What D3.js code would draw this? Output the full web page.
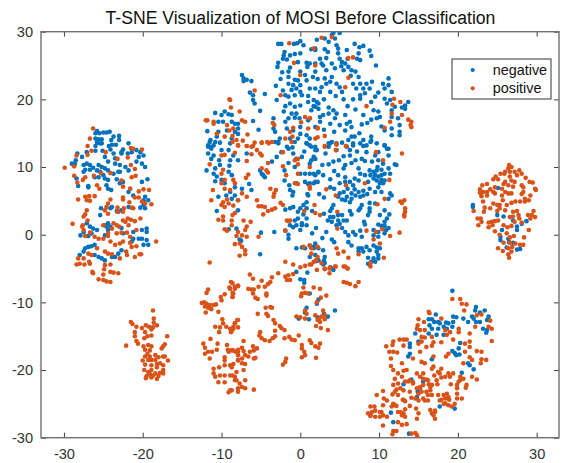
<!DOCTYPE html>
<html><head><meta charset="utf-8">
<script src="https://cdn.jsdelivr.net/npm/d3@7/dist/d3.min.js"></script>
<style>html,body{margin:0;padding:0;background:#fff}svg{display:block}text{font-family:"Liberation Sans",Arial,sans-serif}</style>
</head><body><div id="chart"></div>
<script>
const titleText = "T-SNE Visualization of MOSI Before Classification";
const seriesNames = ["negative", "positive"];
const xTicks = [-30,-20,-10,0,10,20,30];
const yTicks = [-30,-20,-10,0,10,20,30];

const negLeft = [[-26,15],[-25.8,15.3],[-25.5,15],[-25,15.1],[-24.6,15.1],[-24.2,15.2],[-26,14.2],[-25.6,14.1],[-25.2,14.1],[-25.8,13.6],[-25.4,13.5],[-26,13.1],[-25.2,13.5],[-24,14],[-23.7,14.5],[-23,14.6],[-23,14],[-23.4,13.3],[-23.9,13.3],[-24.3,13.1],[-24.1,12.6],[-25.1,12.4],[-26,12.4],[-27.1,12.2],[-28.3,12],[-27.7,11.5],[-28.5,11],[-29,10.5],[-28.6,10.5],[-27.5,10.3],[-27.1,10.5],[-26.7,10.3],[-27.3,9.6],[-27.5,9.3],[-26.7,9.6],[-26.3,9.9],[-25.6,10.3],[-25.2,10],[-24.8,9.8],[-25.8,9.5],[-25.4,9.3],[-25,8.8],[-24.4,9.5],[-25.6,8.5],[-24.8,8.3],[-24.4,8.1],[-23.3,8.2],[-22.9,7.6],[-22.5,7.8],[-28.4,8.3],[-28.2,7.2],[-26.9,7.2],[-26.9,7],[-24.6,7.3],[-24.4,6.8],[-24,6.6],[-21.6,6.8],[-21.8,6.3],[-21.2,5.8],[-20.1,7.8],[-19.4,8.2],[-19.7,5.6],[-19.9,4.4],[-19.7,3.9],[-20.3,4],[-22.9,10.3],[-23.5,10.5],[-23.7,9],[-22.9,9.3],[-22.2,10],[-21.8,9.5],[-22.7,12.2],[-22.5,12.6],[-21.8,13.5],[-21.4,12.2],[-22.7,12],[-21.9,12],[-20.8,12.5],[-20.3,12.2],[-19.9,11.7],[-20.5,11.5],[-20.8,10.8],[-20.1,10.5],[-19.7,10],[-23.1,9.3],[-23.7,12],[-23.5,11.3],[-24.4,10.8],[-24.8,11.5],[-26.1,8.5],[-25.3,3.9],[-25.4,2.9],[-24.1,3.9],[-23.9,4.1],[-23.3,3.5],[-22.7,3.6],[-24.8,1.4],[-27.1,1.7],[-26.7,1.2],[-26.3,.9],[-25.8,.7],[-27.5,.4],[-27.9,-.1],[-26.9,-.2],[-24.6,1.2],[-24.8,-.1],[-24.4,.7],[-26.5,.2],[-24.1,1.2],[-22.5,.2],[-19.5,.9],[-19.5,.4],[-21.2,.4],[-21.2,-.6],[-21.4,-1],[-20.1,-.6],[-19.5,-.8],[-19.9,-1.5],[-19.3,-1.5],[-27.3,-2],[-26.9,-1.8],[-26.5,-1.7],[-26.1,-1.5],[-27.5,-2.5],[-28,-3],[-26.1,-3],[-25.6,-3.3],[-25.2,-3.5],[-24.8,-3.8],[-23.1,-2.8],[-23.5,-3.3],[-23.9,-3.3],[-22.7,-2.3],[-20.5,-.6],[-20.1,.7],[-23.1,3.4],[-19.3,5.1],[-22.7,1],[-24.4,1.7],[-21.8,4.1],[-19.9,5.1]];
const posLeft = [[-26.3,15.7],[-26.7,14.2],[-27,13.1],[-26.5,12.4],[-27,11.8],[-28.4,11.7],[-20.1,12.6],[-21.2,12.7],[-21.5,12.8],[-24.7,12.2],[-29.9,9.9],[-28.7,10.1],[-23.2,11.2],[-21.9,11.4],[-21.5,10.3],[-21,9.7],[-21.4,8.5],[-20.9,8.7],[-24.1,9.1],[-25.3,9.1],[-26.2,8.7],[-27.3,8.5],[-27.6,8.1],[-28.7,8.7],[-28.3,7.7],[-22.7,8],[-25.8,7.3],[-25.5,6.8],[-22.5,7.1],[-20.5,6.4],[-19.9,6.7],[-19.2,6.6],[-21.6,6.8],[-28.2,5.2],[-27.3,5.6],[-26.8,5.7],[-26.1,5.7],[-26.7,5],[-27.1,5.1],[-24.1,5.2],[-24.4,4.6],[-24.6,4.1],[-24.8,3.6],[-24.4,3.1],[-22.5,5.5],[-22.5,5.2],[-21.7,4.8],[-21,5.5],[-20.5,5.5],[-20.1,4.9],[-18.9,4.5],[-19.7,4.6],[-21.4,4],[-21.2,3.9],[-22.4,3.9],[-22.5,3.4],[-23.2,4],[-23.2,3.4],[-27.1,3.6],[-27.5,2.7],[-27.3,3],[-27,2.1],[-28.9,1.6],[-27.7,1.2],[-27.5,.7],[-27.6,1.4],[-23.7,1.7],[-23.3,1.4],[-23,1.2],[-25,1.4],[-23.9,.9],[-24.4,.2],[-21.8,1.4],[-22.2,1.9],[-21.9,2.4],[-22.5,2.1],[-21.5,2.2],[-20.3,2.4],[-21,2],[-26.7,.3],[-27.3,-.2],[-26.1,-.3],[-25.6,-.6],[-25,-.6],[-24.4,-.2],[-23.3,.2],[-22.7,.3],[-22,.3],[-20.8,.7],[-21.6,-.3],[-24.1,-1],[-23.5,-1.5],[-22.9,-1.3],[-22.5,-1],[-21.6,-1.2],[-21.4,-1.8],[-20.8,-1.7],[-18.3,-1],[-25.8,-2],[-26.9,-2.8],[-26.5,-3],[-28.2,-3.5],[-27.5,-3.5],[-26.8,-4],[-28.4,-4.4],[-28,-4.3],[-27.4,-4.4],[-26.7,-4.3],[-24.8,-2.5],[-24.4,-2.8],[-23.9,-2.9],[-22.9,-3.5],[-22.1,-2.5],[-22,-3],[-21,-3.3],[-20.4,-2.9],[-20.2,-2.9],[-26.4,-5.5],[-26.3,-5.7],[-24.8,-4.5],[-24.1,-4.4],[-24.9,-5.1],[-24.1,-5.5],[-23.7,-5.6],[-23.1,-5.7],[-25,-5.9],[-25.6,-6.6],[-25,-6.7],[-24.6,-6.9],[-24.1,-7]];

const negCenterTop = [[-2.8,28.2],[-2.4,28.2],[-.8,28.2],[-.4,28.3],[0,28.6],[.4,28],[-2,27],[-2.1,26.5],[-1.3,26.5],[-.7,26.7],[0,26.8],[1.4,27.4],[1.9,27.5],[-2.2,26],[-1.7,25.9],[.8,25.4],[1.9,25.3],[-2.8,25.4],[-2.9,24.8],[-1.3,24.7],[-1.5,24.1],[-1.5,23.3],[0,24.1],[-7.4,23.6],[-7.2,23.1],[-6.8,22.9],[-6.2,22.7],[-7.2,22.7],[-1.5,22.3],[-.7,22.9],[-.3,22.8],[.6,23.6],[.8,22.8],[-.9,22.1],[0,22.1],[-.5,21.6],[-1.1,21.4],[0,21.1],[-2.2,21.3],[-1.9,20.6],[-1.5,20.4],[-.7,20.6],[.2,20.6],[-6.4,21],[-6,20.6],[-4.5,20.8],[-6,19.9],[-5.8,19.4],[-1.9,19],[-1.3,19.4],[-.7,18.9],[0,19.1],[1,19.6],[1.7,19],[2.1,19.6],[-2.1,18.2],[-1.1,17.9],[-.5,17.9],[-5.1,18.3],[-10.8,18],[-9.6,18.2],[-10,17.7],[-9.1,17.8],[-8.7,17.7],[-9.8,16.7],[-10.4,16.7],[-8.7,16.7],[-8.3,16.4],[-7.9,16.4],[-6,16.8],[-3.4,17.2],[-1.5,17.2],[-.7,17.3],[-1.9,16.7],[0,15.9],[1.9,15.9],[-1.7,15.7],[-.9,15.4],[-3.4,15.7],[-3.2,15.2],[-11.8,15.3],[-10.4,15.2],[-9.3,15.4],[-7.9,15.7],[-8.3,15.2],[-5.3,15.5],[-10.6,14.5],[-7.9,14.9],[0,14.9],[-1.3,14.2],[-.3,14.2],[.8,14.7],[1.2,14.2],[-11.4,14],[-10.8,13.7],[-11.7,13.2],[-11.3,13],[-2.6,14.2],[-3.2,13.7],[-2.8,13.5],[-8.9,13.5],[-8.7,14.2],[-.7,13.7],[.8,13.5],[1.9,13],[-1.7,13]];
const posCenterTop = [[-1.4,28.3],[-.8,25.4],[0,23.6],[-5.8,21.3],[-2.5,20.6],[-9,20],[-8.9,19.9],[-8.8,18.8],[-7.7,18.2],[-12,16.9],[-11.8,16.9],[-11,16.7],[-11,16.4],[-9.3,16.2],[-7,16.7],[-7.4,16.9],[-3.5,16.5],[-3.3,16.2],[.1,16.6],[-.9,15.8],[.6,17.4],[1.2,17.2],[-8.5,15.7],[-9,15.4],[-9.6,14.5],[-10.6,14.9],[-6.7,14.8],[-8.6,14.6],[-1.3,15.2],[-1.9,14.2],[-1,14.5],[1,15.7],[2.2,15.8],[-8.1,14],[-7.9,13.2],[-7.3,13.9],[-6.8,13.1],[-6.2,13],[-5.8,13.6],[-4.9,13.6],[-4.2,13.7],[-3.6,13.7]];

const negTopRight = [[4.2,29.8],[5,29.8],[2.1,28.8],[3.1,29],[3.6,28.5],[4.4,29],[4,29.5],[6.9,28.2],[8,27.9],[7.5,27.7],[4.6,28],[4.8,27.5],[1.9,27.3],[3.1,27.4],[5.9,27.3],[8.8,27.2],[9,26.4],[7.4,26.8],[4.8,26.8],[5,26],[7.2,26],[7.6,25.8],[9.6,25],[2.5,26],[3.3,26.1],[1.2,25.3],[2.7,25.3],[4,25.3],[5.3,25.5],[5.7,25.3],[6.1,24.8],[6.5,24.3],[7,24.1],[5.5,24.3],[4.4,24.6],[3.3,24.3],[1.9,24.1],[7.4,23.3],[4,23.3],[3.1,23.1],[1.6,23.3],[11.2,23.1],[3.8,22.6],[4.6,22.3],[3.3,22.3],[2.7,21.8],[5,21.8],[6.7,22.3],[7.6,22.3],[8.4,22.3],[9.1,22.6],[10.5,22.3],[11.2,22.1],[7.1,21.6],[8,21.6],[8.8,21.6],[10.7,21.6],[1.9,21.6],[1.2,21.6],[3.8,21.1],[5.3,21.1],[2.5,21.1],[11.6,21.1],[9.9,21],[8.2,20.9],[7.6,20.6],[9.5,20.4],[6.7,20],[5.5,20],[7.6,20.1],[10.7,20.1],[11.4,19.9],[9,19.6],[11,19.4],[1.7,19.9],[2.3,19.4],[13.7,19.6],[13.3,19.1],[12.9,18.8],[12,18.9],[11.6,18.4],[1.9,18.9],[2.3,18.6],[3.6,18.8],[4.2,18.4],[9.3,18.4],[9.9,18.2],[8,17.7],[10.1,17.4],[9.7,17.2],[12.4,17.2],[13.3,18.6],[3.6,17.9],[2.9,17.7],[4.6,17.9],[2.5,17.4],[5.7,17.7],[4.4,17.2],[11.6,17.4],[1.4,18.4],[3.8,16.4],[6.3,16.7],[5.9,16.4],[5,16.2],[7.8,16.3],[6.5,15.9],[10.3,16],[12.6,16.2],[5.7,15.4],[10.7,15.4],[11.6,15.7],[12.6,15.2],[12.6,14.7],[11.6,14.7],[6.9,14.5],[6.5,14.5],[6.1,14],[9,14.5],[8,14],[9,13.9],[3.8,13.5],[3.6,13],[4.6,13.5],[5.3,13.6],[5.9,13],[6.7,13.5],[7.6,13.5],[8.4,13.2],[10.7,13.2],[11.2,12.7]];
const posTopRight = [[2.7,29.1],[4,29.2],[1.7,27.5],[6.1,26.1],[6.7,26.2],[1.9,25],[6.1,23.2],[5.7,21.8],[11.9,20.1],[12.7,19.6],[8.4,19],[11.7,19.2],[11.6,17.9],[12.9,17.7],[11.4,16.7],[13.7,17],[14.1,16.7],[14,16.2],[14.1,15.9],[10.7,15.8],[2.2,15.7],[2.2,14.4],[3.1,14.6],[1.9,14.2],[4.6,13.4],[3.1,13],[5.8,13.1],[1.2,17.2]];

const negMiddleLeft = [[-11.5,13.7],[-11,13.2],[-10.2,13.6],[-11.7,13],[-11.3,12.7],[-11,11.7],[-11.3,11.2],[-11.7,12],[-10.2,10.3],[-11.9,9.5],[-10.8,9.8],[-11,9],[-10.6,8.6],[-10.8,7.9],[-10,8.1],[-9.1,9.3],[-8.7,8.8],[-9.6,7.6],[-7.9,11],[-8.5,11.7],[-8.9,11],[-9.1,12.5],[-7.4,6.8],[-8.3,7],[-8.9,6.3],[-9.4,5.8],[-10.4,5.6],[-8.3,5.8],[-8.7,5.3],[-7.9,5.1],[-6.2,6.6],[-10.6,3.5],[-7.9,3.6],[-5.1,9.5],[-4.7,8.8],[-4.9,9],[-4.5,8.5],[-3.6,10.8],[-9.1,.8],[-8.1,.9],[-5,.3],[-3.3,.4],[-7.7,-.7],[-7.5,-.9],[-5.1,-2.9],[-2.8,13.7],[-2.4,12.2],[-1.5,12.7],[-.9,12],[.2,11.5],[-.5,11.2],[-.7,10],[.6,9],[0,9],[1.2,9],[2.3,9.3],[1.9,8.8],[1.9,11.2],[1.2,10.5],[2.1,12.5],[.8,13.5],[1.2,13.2],[-1.4,7.3],[-1.3,6.6],[-.9,6.3],[-1,5.8],[-.5,7.6],[.6,7.8],[1,7.5],[1.7,7.6],[2.2,7.8],[.8,4.8],[.4,4.4],[0,3.9],[-1.9,3.7],[-1.3,3.9],[-.9,4.1],[-.3,3.4],[.8,3.9],[.4,3],[-.3,2.4],[-.7,2.1],[.8,2.4],[.2,1.7],[-.5,1.4],[-.9,1.1],[-1.3,1.4],[-1.9,.6],[-1.5,0],[-1.5,-.6],[0,.7],[.2,1.4],[.8,1.4],[-.5,-2],[.2,-1.9],[.6,-2],[1.7,-1.8],[2.3,-2],[1.9,-1.3],[1.2,-1.6],[1.9,-3],[2.3,-3.8]];
const posMiddleLeft = [[-8.6,13.7],[-7.9,13.2],[-6.8,13.1],[-6,13.1],[-4.9,13.6],[-4,13.5],[-5.5,12.5],[-5.1,12],[-4.9,11.7],[-9.6,11.8],[-10,11.7],[-8.3,12.1],[-6.2,11.9],[-6.8,10.9],[-4.1,10.6],[-11.5,10.4],[-9.8,9.6],[-10,9],[-4.9,9.8],[-4.3,9.5],[-4.1,9.2],[-2.2,10.1],[-1.8,8.8],[-6.6,8.9],[-6.9,8.4],[-8.5,8.1],[-8.3,7.6],[-9.6,8.1],[-10,7.6],[-11.1,6.6],[-9.6,6.8],[-8.9,6.6],[-7.4,6.1],[-6.8,5.6],[-3.8,6.8],[-3.1,6.6],[-3.3,6.1],[-3.4,5.6],[-11.3,5.1],[-7.9,5.1],[-9.3,5.2],[-9.8,4.8],[-9.1,4.6],[-10,4.4],[-9.6,4.1],[-8.5,4.3],[-5.5,5.1],[-5.3,4.2],[-4.9,4.2],[-4.5,4.1],[-2.5,4.7],[-2.2,4.4],[-3.2,3.9],[-3.6,3.7],[-4.1,3.5],[-4.7,3],[-8.3,3.2],[-8.6,2.9],[-10.4,2.2],[-9.8,2.7],[-9.8,2.1],[-8.7,2.1],[-8.7,1.4],[-7.2,2.1],[-6.3,1.9],[-9.6,.8],[-9.3,.6],[-6.8,1.2],[-7,.7],[-7.9,.4],[-7.4,-.1],[-8.1,-.2],[-6.8,-.3],[-5.3,-.3],[-8.3,-1.4],[-7.7,-1.3],[-7.4,-1.8],[-7,-2.3],[-7.7,-3.1],[-7,-2.9],[-11.5,-4.1],[-1.7,2.1],[-1.5,2],[-1.9,.6],[-.3,11.2],[-.3,10.4],[-.7,11],[1.2,10],[-.3,9],[1.2,7.1],[-.7,7.6],[-.3,7.5],[-1.1,13.7],[-2.2,12.2],[.5,3.5],[-1.3,2.1],[.4,-1.8],[1.4,-2]];

const negMiddleRight = [[1.4,13],[1.9,12.5],[3.6,13.5],[4,13.7],[4.6,12.5],[5.5,11.6],[6.3,12.5],[6.7,13.2],[8,13.1],[8.9,13.7],[9.7,13.5],[10.7,13.2],[11,12.7],[11.2,11.7],[9.9,12.2],[9.5,11.7],[8.4,12.2],[7.8,11.2],[8.2,10.9],[9.1,10.8],[9.9,11],[6.3,11.7],[5.7,10.3],[6.5,10.6],[5.5,9.8],[4.2,10.8],[3.6,10.4],[1.7,11.5],[1.4,11],[2.3,9.2],[2.9,8.8],[1.7,9],[3.8,8.2],[4.3,9.4],[4.8,8.8],[5.7,8.5],[12,10.4],[12.2,10.3],[7.4,9.8],[7.6,9],[8.2,8.8],[9.3,9.3],[9.7,9.5],[10.3,9.6],[10.7,9],[9.5,8.8],[9.9,8.6],[10.3,8.8],[9.3,8.3],[9.7,8],[10.3,8.1],[10.7,8],[10.1,7.6],[10.5,7.6],[9.9,7],[6.9,8.3],[7.4,8],[6.3,7.8],[5.7,7.8],[8.6,7.8],[5,7.6],[1.9,7.8],[1.2,7.6],[3.8,7],[4.3,6.8],[6.7,7.3],[6.9,6.7],[6,6.8],[5.5,6.3],[5,6.1],[8.8,6.8],[8,6.5],[7.4,6.3],[6.5,6.1],[7,5.8],[5.9,5.6],[4.8,5.6],[5.3,5.2],[5.7,5.1],[8,5.8],[9.5,6.3],[10.3,6.3],[11.4,6.1],[11.6,5.8],[11.2,5.3],[7.6,5.6],[8.8,4.7],[9.5,4.6],[7.8,4.4],[4.2,4.4],[4,3.9],[3.8,3.5],[7.6,3.9],[7.4,3.6],[8.8,3.9],[8.8,3.4],[8.6,2.9],[6.3,3.5],[6.5,3],[3,3.1],[10.1,2.9],[10.7,3.6],[11.3,3],[11,2.4],[10.7,1.9],[3.8,2.6],[3.5,2.1],[4,1.9],[4.2,2.6],[4.8,2.9],[5.3,2.9],[4.8,2.1],[5.5,2.1],[5.9,2.1],[5,1.6],[4.6,1.4],[5.3,1],[8.1,1.9],[8.2,1.5],[9.9,1.5],[10.3,1.3],[10.7,1.3],[11.2,1],[10.9,.7],[3.3,.4],[5.7,.4],[6.7,.4],[7,0],[6.1,-.1],[7.6,.6],[9.3,.7],[9.9,.4],[10.7,.2],[9.3,-.1],[9.9,-.3],[7.8,-.3],[4,-.7],[4.3,-1.1],[6.1,-1.1],[6.5,-1.6],[9.3,-1.6],[9.7,-1.9],[7.4,-2],[7.8,-2],[8.4,-1.8],[7.4,-2.5],[8,-2.5],[8.8,-2.3],[9.7,-2.5],[10.1,-2],[2.9,-2.3],[1.7,-2],[3.1,-3.3],[3,-3.8],[9.9,-3],[8.6,-3.4],[9.3,-3.5],[9.9,-3.5],[9,-4],[9.5,-4],[8.6,-4.3],[1.2,-3.3],[3.8,-4.8],[2.1,-3.8]];
const posMiddleRight = [[3.1,13.1],[4.6,13.3],[5.8,13.1],[4.5,12.5],[9.6,12.2],[12.9,12],[10.5,11],[11.3,8.1],[8.2,7.6],[5.8,7.3],[3.3,6.7],[4.5,5.8],[1.2,6.8],[1.8,4.4],[10.7,5.3],[9.8,4.5],[12.7,4.9],[13.2,5.1],[12.9,4.7],[13.3,3.9],[13.3,3.4],[13.2,3],[13.2,2.7],[1.9,3.2],[2.5,2.9],[4.7,3.4],[4.7,.9],[8.4,.6],[9.6,.4],[10.4,.8],[11.4,-.2],[12.6,.3],[9.3,-.7],[10.1,-1.3],[1.2,-1.6],[2.2,-1.8],[4.6,-2],[4.8,-2.8],[5.5,-2.5],[6.1,-3.4],[7.4,-2.9],[10.6,-3.4],[1.4,-2.8],[2.2,-3.3],[2,-3.8],[2.7,-4.2],[1.4,-4.4],[3.1,-5],[3.8,-4.9],[4.4,-4.7],[5.5,-4.7],[6,-5],[8.9,-4.7],[8.9,-4.2]];
const negCoreExtras = [[2.9,25],[3.5,27],[5.2,24.9],[6,26],[6.4,23.5],[2.2,23],[1,20.5],[3,20],[4.5,20.5],[6,19],[7,18.5],[8.5,16.5],[9,17],[7.5,15],[4.3,15.2],[3,15.5],[2.5,16.7],[3.2,12],[4.9,11],[7,11],[7.2,12.3],[8.8,9.5],[8.9,8.8],[9.8,10],[10.5,10.5],[11.2,9.8],[11.4,9],[8.5,6],[6.3,4.8],[6.5,5.3],[3,5.5],[2.4,6],[2.8,10.3],[1,5.8],[-2,9.5],[-3,11.5],[-1.5,10.6],[-2,8],[.9,6],[1.5,3.5],[2,1],[2.8,-.5],[1.5,.2],[-2.3,24],[-3.1,22],[-2.5,23],[-3,19.9],[-.3,25.5],[.9,24.8],[-.1,17.2],[1,16.9],[-1,12.9],[.5,12.3],[-10.3,11],[-10,12.5],[-9,10.2],[-6.8,12],[-6.5,7.5]];

const posRightCluster = [[26.5,10.3],[26.8,10],[26.4,9.8],[26,9.3],[26.6,9.3],[27.2,9.3],[27.8,9.5],[28.1,9],[25.9,9],[25.4,9],[24.8,8.6],[24.5,8.2],[26.6,8.6],[27.5,8.8],[25.1,8.2],[28.6,8.4],[29.1,7.8],[29.5,7.7],[26,7.8],[26.8,8],[27.2,7.8],[25.8,7.5],[26.4,7.3],[23.7,7.5],[23.1,7.3],[24.7,7],[25.6,6.8],[27,7.1],[28.1,7.3],[28.3,7],[29.8,6.8],[29.9,6.6],[22.8,6.7],[22.8,6.2],[23.2,6.3],[23.7,6.3],[24.1,6.7],[24.5,6.3],[26,6.3],[26.4,6.1],[26.8,6.1],[28.3,6.3],[28.1,6],[29.2,5.8],[23,5.7],[23.7,5.8],[24.7,6.1],[25.6,5.8],[28.5,5.3],[29,5.1],[23.2,4.9],[24.5,4.6],[25.3,4.4],[25.7,5.1],[26.2,4.4],[26.8,4.7],[27.3,4.9],[27.9,4.9],[28.5,4.9],[25,4.4],[23.4,4],[24.1,3.9],[25.3,3.9],[22,3.5],[23.3,3.4],[25,3.5],[26,3.6],[27,3.4],[27.5,3.5],[29.6,3.5],[27.7,2.9],[27,2.7],[26.6,2.6],[28.9,2.9],[29.4,2.9],[29.8,2.6],[22.5,2.4],[22.9,2.4],[24.7,2],[25.1,2.1],[24.3,1.9],[23.9,1.8],[29.2,2.4],[23,1.9],[27.8,2.4],[27.2,1.9],[28.1,1.8],[22.6,1.4],[24.4,1.4],[25.8,1.4],[26.3,1.1],[26.8,1.3],[29,.7],[23.9,1.1],[24.7,.5],[25.3,0],[26.2,.2],[27.1,-.2],[26.6,-.4],[28.4,-.4],[25.8,-1.2],[26.6,-1.2],[27.3,-1.3],[27.9,-1.5],[26.4,-2],[26.9,-1.8],[28.3,-1.5],[25.7,-2.4],[26.8,-2.5],[26.4,-2.9],[26.5,-3.4],[25.1,-2]];
const negRightCluster = [[21.9,4.4],[21.9,4.1],[25.1,6.9],[25,2.9],[25.8,2.7],[27,2.1],[28.7,2],[28.1,1.6],[27.5,1.2],[27.5,.7],[25.6,.7],[25.4,-.3],[25.4,-.8],[26.4,-.6],[27,-1.2],[26.2,-1.9],[27.5,-2.2],[27.9,-2.1],[26.5,-1.1]];

const posSmallCluster = [[-18.7,-11.2],[-21.5,-12.9],[-21.3,-13.2],[-20.8,-13.6],[-18.6,-12.4],[-18.6,-13],[-19.6,-13.4],[-18.2,-13.4],[-20.1,-13.8],[-19.2,-13.6],[-18.7,-13.7],[-18.9,-14],[-19.7,-14.4],[-21,-14.4],[-21,-15],[-16.9,-15],[-18.9,-14.9],[-19.4,-15],[-19.8,-15.3],[-20.8,-15.7],[-20.6,-16.1],[-22.1,-16.4],[-19.9,-16.5],[-17.2,-16.2],[-17.4,-16.5],[-17.6,-16.8],[-19.3,-16.3],[-18.9,-16.5],[-19.7,-17],[-19.1,-17.1],[-19.4,-17.6],[-19.7,-18],[-19.1,-18],[-18.4,-17.8],[-18,-18.1],[-17.4,-18],[-17.2,-18],[-18.9,-18.5],[-19.3,-18.5],[-20,-18.6],[-18.4,-18.5],[-16.8,-18.6],[-19.7,-19.2],[-18.2,-19.1],[-18.9,-19.3],[-17.4,-19.3],[-17.8,-19],[-19.8,-20],[-18.9,-20],[-18.2,-19.6],[-17.4,-20],[-19.3,-20.3],[-18.4,-20.5],[-17.8,-20.4],[-17.4,-20.5],[-19.5,-20.9],[-19.6,-21.2],[-18.9,-21.1],[-18.2,-21.3],[-18.7,-20.8],[-18,-20.9],[-19.1,-20.6]];

const posLowerLeft = [[-11.7,-8.1],[-11.9,-8.6],[-8.8,-7],[-9,-7.8],[-8.3,-7.7],[-7.9,-7.5],[-8.5,-8.7],[-8.6,-9.2],[-9.6,-8.8],[-10.1,-9.2],[-10,-9.7],[-12.5,-10.1],[-12.2,-10],[-11.9,-10.2],[-11.5,-10.4],[-11,-10.4],[-10.7,-10.3],[-12.1,-10.6],[-11.7,-10.8],[-11.3,-11],[-12,-11.5],[-10.4,-11.4],[-9.9,-12.5],[-8,-12.6],[-8.3,-13.1],[-7.9,-13.7],[-9.8,-13.1],[-9.4,-13.6],[-10.8,-13.6],[-10.2,-13.7],[-10.3,-14.4],[-8.9,-13.9],[-8.5,-13.9],[-8.8,-14.4],[-12.3,-16.1],[-11.4,-15.4],[-10.5,-16.1],[-12.1,-16.7],[-10.6,-17],[-12.1,-17.6],[-11.7,-17.3],[-11.2,-17.3],[-11.5,-18.3],[-9.3,-16.3],[-9.2,-17],[-8.7,-17.1],[-8.2,-17.3],[-7.9,-17],[-9.1,-17.3],[-9.6,-18.1],[-7.9,-17.8],[-9.6,-18.6],[-8.9,-19.3],[-7.9,-18.5],[-9.6,-19.3],[-11,-19.8],[-10.3,-19.6],[-11,-20.5],[-10.8,-21],[-10.2,-20.8],[-9.6,-20.8],[-8.9,-20.8],[-8.3,-21],[-10.4,-21.8],[-9.6,-21.8],[-8.1,-21.5],[-8.9,-23],[-9.1,-23.3],[-8.7,-23],[-7.9,-23.2]];

const posLowerMiddle = [[-1.9,-4],[-.9,-4.4],[0,-4.8],[.6,-4.6],[1.2,-4.4],[1.7,-4],[2.1,-5.2],[3.1,-5.1],[3.7,-5],[3.7,-5.7],[4.5,-4.7],[5.7,-4.7],[6,-5],[-6.4,-5.9],[-6,-6.5],[-3.6,-6.3],[-4.9,-6.8],[-3.8,-7],[-4.1,-7.3],[-4.5,-7.7],[-2.8,-5.7],[-1.9,-6.2],[-1.5,-6],[-.9,-5.8],[-1.3,-6.7],[-1.7,-6.7],[-5.3,-7.7],[-6.6,-8],[-6.2,-8.1],[-5.9,-8.1],[-6,-8.7],[-4.3,-8.7],[-4.3,-9],[-5.7,-9.3],[-5.4,-9.5],[-8.6,-7.2],[-7.9,-7.6],[-8.3,-8],[-8.9,-8],[-8.6,-8.6],[-8.6,-9.2],[.4,-7.8],[1.7,-7.8],[2.5,-8],[.2,-8.7],[.6,-8.6],[.1,-9.1],[1,-8.7],[2.6,-9.3],[3.3,-9],[2.1,-10],[5.5,-7],[5.9,-7.1],[6.3,-7.3],[7.4,-7],[7,-7.6],[-4.4,-10.8],[-3.8,-10.7],[-3.6,-10.8],[-5.4,-11.7],[-4.3,-11.7],[-4.1,-12],[-3.4,-12.6],[-3.2,-13.1],[-2.6,-13.5],[-2.4,-13.8],[-2,-14.1],[-3.2,-14.2],[-.5,-12.1],[-.2,-14.9],[0,-12.2],[.6,-12.4],[.6,-11.2],[.8,-11.7],[1.9,-11.9],[2.4,-12.4],[2.7,-12.1],[3.1,-11.9],[2.5,-12.9],[2.2,-12.6],[3.1,-12.5],[2,-13.5],[2.6,-13.8],[3.5,-14.1],[2.9,-11.2],[-5.1,-14.4],[-5.2,-14.9],[-4.9,-15.3],[-4.5,-15.6],[-3.9,-15.7],[-3.5,-15.3],[-3.2,-15],[-2,-15.3],[-1.4,-15.1],[-1.1,-15.5],[-.7,-15.6],[1.2,-15.6],[1.4,-16],[1.9,-16.5],[2.3,-16.7],[2.5,-16.1],[.2,-16.3],[.2,-16.8],[.5,-17.3],[.2,-18.1],[.6,-17.8],[2,-18.2],[-1.8,-18.3],[-1.9,-18.8],[-2.2,-19.2],[-7.2,-15.7],[-7.9,-12.6],[-8.3,-13.1],[-8.5,-13.6],[-8.7,-14.2],[-6,-16.5],[-5.5,-16.8],[-5.9,-17.1],[-6.4,-17.3],[-7.4,-16.7],[-7.2,-17.2],[-7.9,-17.3],[-8.5,-17.1],[-7,-17.8],[-6.6,-18],[-5.9,-18.3],[-5.7,-18.2],[-7.4,-18.3],[-7.9,-18.6],[-7,-19.1],[-7.4,-19],[-8.5,-19.1],[-8.7,-19.6],[-7.2,-20],[-8.1,-20.3],[-8.6,-20.8],[-7,-21.5],[-8.3,-21.5],[-7.7,-22],[-7.4,-22.5],[-7,-22.7],[-7.9,-22.7],[-5.9,-22.9]];
const negLowerMiddle = [[-.5,-5.5],[.9,-5.6],[0,-6.6],[.5,-7.1],[1.2,-8.7],[3.1,-4.2],[2.9,-4.4],[4,-5],[4.2,-5.2],[2.3,-9.6],[2.1,-10.2],[.8,-10.8],[.6,-11.5],[-.2,-12.4],[1.1,-12.5],[2.2,-12.2],[3,-11.7],[3.5,-12.1],[4.4,-11.2],[.5,-6.7],[2,-3.9]];

const negLowerRight = [[19.3,-8.3],[16.3,-12.5],[16.7,-12.5],[17.2,-11.8],[17,-12.9],[17.5,-12.9],[16.4,-13.4],[17.7,-13.1],[18.5,-13],[18.8,-13.1],[18.2,-13.6],[17.5,-13.9],[18.6,-13.9],[16.7,-13.9],[16.3,-14.6],[17.3,-14.8],[18.2,-14.8],[19.4,-12.1],[19.8,-12.2],[20.7,-12.4],[19.4,-12.9],[19.3,-13.6],[21.8,-12.1],[22,-12.4],[21.3,-12.9],[22.3,-10.7],[22.2,-11.2],[22.8,-11.5],[23.4,-11.2],[23.9,-12.1],[23.7,-12.6],[22.3,-12.9],[22.8,-12.9],[23.2,-13.9],[23.7,-14.1],[23.6,-14.5],[13.9,-16.1],[13.9,-16.6],[13.9,-17.6],[13.7,-18],[15,-15.8],[16.7,-18.4],[19.3,-17.2],[19.6,-17.5],[20.1,-16.8],[20.3,-16],[20.2,-17.7],[19.8,-17.8],[21.3,-19],[21.5,-19.3],[22,-19.9],[20.5,-20.4],[15.6,-21.7],[14.1,-21.4],[13.1,-22.1],[14.9,-23.2],[14.8,-24],[17.7,-25.4],[19.6,-25.7],[11.5,-26.3],[11.8,-27.7],[13.8,-29.4],[14.6,-14.6]];
const posLowerRight = [[19.3,-9.5],[20.3,-9.5],[20.5,-10.2],[21.1,-10.3],[20.8,-11.2],[16.3,-11.4],[16.4,-11.6],[15,-12.5],[17.9,-12.4],[22.4,-11.9],[23,-11.8],[24.1,-12.7],[14.9,-13.4],[14.8,-13.9],[15.7,-12.9],[15.8,-14.1],[15.2,-14.1],[19,-14.4],[18.4,-14.1],[20.1,-13.9],[20.1,-14.4],[22.2,-13.6],[21.5,-14.6],[23.9,-13.6],[24.3,-13.9],[24.3,-15.7],[15.4,-15.1],[15.8,-15.2],[16.7,-15.1],[16.9,-15.9],[17.9,-15.9],[19.4,-15.5],[18.6,-14.8],[13.1,-15.5],[12.6,-15.5],[13.5,-15.5],[11.8,-15.8],[11.7,-16.3],[10.9,-16.5],[13.1,-16.4],[15,-16.1],[15.4,-15.8],[16,-16.6],[16.7,-16.4],[20.9,-16.1],[21.5,-15.8],[21.5,-16.6],[22.4,-17.2],[23,-17.3],[15.2,-17.3],[11.3,-17.3],[11.8,-17.3],[12.3,-17.4],[18.5,-18],[18.8,-17.6],[20.9,-17.3],[16.9,-18],[14.3,-18.3],[11.5,-18.3],[21.5,-18.1],[23.6,-18.5],[23,-18.4],[22.9,-19],[20.7,-19],[15.4,-18.8],[15.8,-19],[12.9,-19],[11.5,-19.4],[11.8,-20],[13.1,-20.1],[13.5,-20],[16.9,-19.5],[17.9,-19.8],[21.8,-18.5],[14.8,-20.5],[15.6,-20.5],[16.7,-19.8],[12.4,-20.5],[12.9,-21],[12,-21.3],[15.6,-21.3],[16,-21.4],[17.7,-20.5],[17.9,-21.1],[19,-21],[19.4,-20.5],[20.3,-21],[20.7,-21.3],[21.8,-21],[22.4,-21.4],[13.7,-21.7],[14.3,-22],[17.3,-21.5],[17.4,-22.1],[19.1,-22.1],[20.1,-21.7],[11.8,-22.2],[12.7,-22.7],[12.2,-22.9],[15.2,-22.7],[16.3,-22.1],[16.7,-22.2],[21.1,-22.2],[21,-22.6],[19.9,-22.7],[10.5,-23.1],[9.7,-23.7],[12,-23.2],[11.7,-23.6],[12.4,-23.7],[16,-23.2],[16.5,-23],[19.9,-23.5],[18.6,-23.5],[17.5,-23.7],[10.6,-24.2],[11,-24.5],[13,-24.4],[13.3,-24.6],[14.1,-24.1],[15,-24.5],[15.8,-24.5],[16.2,-24.5],[17.9,-24.4],[18.8,-24],[19.9,-24.2],[20.5,-24.2],[10.5,-25.2],[11.8,-25],[12.2,-25.3],[13.9,-25.3],[18.4,-24.9],[18.8,-25.2],[19.6,-25],[8.9,-25.4],[9.4,-25.4],[12.4,-26.2],[13.3,-25.8],[14.7,-25.7],[16.5,-25.9],[17.1,-26],[19.2,-25.4],[8.6,-26.4],[9.5,-26],[10.3,-26.2],[15,-26.4],[16.9,-26.7],[8.9,-26.8],[9.5,-26.9],[10.1,-26.9],[11,-26.9],[12.9,-26.7],[13.3,-26.9],[14.8,-27.2],[17.1,-27.2],[12.4,-27.7],[12.9,-28.1],[13.5,-28],[10.5,-28.2],[11.8,-29],[12.2,-29],[11.7,-29.5],[14.1,-29.4],[14.6,-29.3],[14.8,-29.6],[14.9,-30],[13.3,-21.7],[13.9,-21.5],[14.3,-21.8],[14.8,-22.7],[15.2,-22.5],[15.4,-23.2],[16.2,-23.7],[13.9,-23.2],[14.6,-24.2],[15.6,-24.2],[13.1,-24.4],[18.2,-23.7],[18.4,-24.2],[18.9,-24.4],[18.2,-25],[17.7,-24.5],[20.3,-21.5],[19.9,-22.2],[17,-20.8],[17.5,-20.3],[15.2,-21],[15.6,-22.2],[16.2,-21.5],[16.5,-22.5],[16.7,-23.7],[11.6,-25.4],[12,-25.2],[13.1,-26.4],[12.7,-26.2],[10.1,-26.2],[10.5,-26.7],[9.1,-26.2],[8.9,-26.7],[16.7,-26.4],[17.1,-26.2],[18.4,-21],[18.8,-20.5],[12.4,-22],[13.1,-23],[15,-23.5]];

const negativePoints = [].concat(negLeft, negCenterTop, negTopRight, negMiddleLeft, negMiddleRight, negCoreExtras, negRightCluster, negLowerMiddle, negLowerRight);
const positivePoints = [].concat(posLeft, posCenterTop, posTopRight, posMiddleLeft, posMiddleRight, posRightCluster, posSmallCluster, posLowerLeft, posLowerMiddle, posLowerRight);

const W = 563, H = 463;
const colors = ["#0072BD", "#D95319"];
const x = d3.scaleLinear().domain([-33, 33]).range([40.3, 560.3]);
const y = d3.scaleLinear().domain([-30, 30]).range([437.7, 31.7]);
const svg = d3.select("#chart").append("svg").attr("width", W).attr("height", H);
svg.append("clipPath").attr("id","plot").append("rect")
  .attr("x", 41).attr("y", y(30)).attr("width", 518).attr("height", y(-30)-y(30));
const axisColor = "#707070";
const tickText = d => String(d);

const drawAxis = (gen, tx, ty) => {
  const g = svg.append("g").attr("transform", `translate(${tx},${ty})`).call(gen);
  g.select(".domain").remove();
  g.selectAll("line").attr("stroke", "#404040").attr("stroke-width", 1);
  g.selectAll("text").attr("fill", "#333").style("font-size", "14.6px");
  return g;
};
drawAxis(d3.axisBottom(x).tickValues(xTicks).tickFormat(tickText).tickSize(-5).tickPadding(11), 0, 437.7);
drawAxis(d3.axisTop(x).tickValues(xTicks).tickFormat("").tickSize(-5), 0, 31.7);
drawAxis(d3.axisLeft(y).tickValues(yTicks).tickFormat(tickText).tickSize(-5).tickPadding(8), 41, 0);
drawAxis(d3.axisRight(y).tickValues(yTicks).tickFormat("").tickSize(-5), 559, 0);

svg.append("rect").attr("x", 41).attr("y", y(30)).attr("width", 518).attr("height", y(-30)-y(30))
  .attr("fill", "none").attr("stroke", axisColor).attr("stroke-width", 1.4);

const marks = svg.append("g").attr("clip-path", "url(#plot)");
[negativePoints, positivePoints].forEach((pts, i) => {
  marks.append("g").selectAll("circle").data(pts).join("circle")
    .attr("cx", d => x(d[0])).attr("cy", d => y(d[1])).attr("r", 2.3).attr("fill", colors[i]);
});

svg.append("text").attr("x", 300.5).attr("y", 24).attr("text-anchor", "middle")
  .attr("fill", "#111").style("font-size", "17.6px").text(titleText);

const lg = svg.append("g");
lg.append("rect").attr("x", 452).attr("y", 59).attr("width", 99).attr("height", 40)
  .attr("fill", "#fff").attr("stroke", "#555").attr("stroke-width", 1.2);
seriesNames.forEach((name, i) => {
  const ly = 70 + i * 18.3;
  lg.append("circle").attr("cx", 472.7).attr("cy", ly).attr("r", 2.1).attr("fill", colors[i]);
  lg.append("text").attr("x", 492.7).attr("y", ly + 5).attr("fill", "#111").style("font-size", "14.4px").text(name);
});
</script></body></html>
